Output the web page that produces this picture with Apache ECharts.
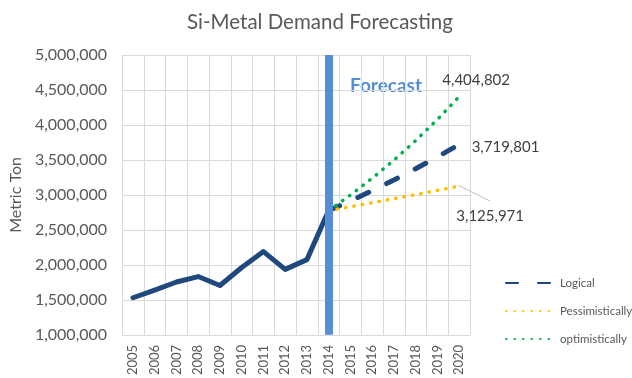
<!DOCTYPE html>
<html>
<head>
<meta charset="utf-8">
<script src="https://cdn.jsdelivr.net/npm/echarts@6/dist/echarts.min.js"></script>
<style>
  html, body { margin: 0; padding: 0; background: #fff; }
  #chart { width: 632px; height: 378px; }
</style>
</head>
<body>
<div id="chart"></div>
<script>
// Years on the category axis
const years = ['2005','2006','2007','2008','2009','2010','2011','2012','2013','2014',
               '2015','2016','2017','2018','2019','2020'];

// Recorded demand, 2005–2014 (metric tons)
const actualYears = ['2005','2006','2007','2008','2009','2010','2011','2012','2013','2014'];
const actual = [1530000, 1640000, 1755000, 1833000, 1705000, 1962000, 2190000, 1936000, 2075000, 2775773];

// Forecast scenarios, 2014–2020 (metric tons)
const forecastYears = ['2014','2015','2016','2017','2018','2019','2020'];
const logical        = [2775773, 2914562, 3060290, 3213304, 3373969, 3542668, 3719801];
const pessimistic    = [2775773, 2831288, 2887914, 2945673, 3004586, 3064678, 3125971];
const optimistic     = [2775773, 2997835, 3237662, 3496675, 3776408, 4078521, 4404802];

const yTicks = { min: 1000000, max: 5000000, step: 500000 };

const fmt = v => Math.round(v).toLocaleString('en-US');
const FONT = 'Lato';
const last = arr => arr[arr.length - 1];

// Pair each value with its year; only the final point carries a label
function pairs(xs, vs, labelOpt) {
  return vs.map((v, i) => {
    const item = { value: [xs[i], v] };
    if (labelOpt && i === vs.length - 1) {
      item.symbol = 'circle';
      item.symbolSize = 1;
      item.itemStyle = { color: 'rgba(0,0,0,0)', borderWidth: 0 };
      item.label = Object.assign({ show: true, formatter: p => fmt(p.value[1]) }, labelOpt);
    }
    return item;
  });
}

const labelText = { color: '#404040', fontSize: 15, fontFamily: FONT };

const chart = echarts.init(document.getElementById('chart'), null, { renderer: 'canvas' });

chart.setOption({
  animation: false,
  backgroundColor: '#ffffff',
  title: {
    text: 'Si-Metal Demand Forecasting',
    left: 182,
    top: 7,
    textStyle: { color: '#595959', fontSize: 20.5, fontWeight: 'normal', fontFamily: FONT }
  },
  grid: { left: 113, right: 162, top: 55, bottom: 41, containLabel: false },
  legend: {
    data: ['Logical', 'Pessimistically', 'optimistically'],
    orient: 'vertical',
    left: 505,
    top: 277,
    padding: 0,
    itemWidth: 49,
    itemHeight: 14,
    itemGap: 16,
    itemStyle: { color: 'rgba(0,0,0,0)', borderWidth: 0 },
    textStyle: { color: '#595959', fontSize: 11.5, fontFamily: FONT }
  },
  xAxis: {
    type: 'category',
    data: years,
    boundaryGap: true,
    axisLine: { lineStyle: { color: '#D9D9D9' } },
    axisTick: { show: false },
    splitLine: { show: true, lineStyle: { color: '#D9D9D9' } },
    axisLabel: { rotate: 90, margin: 10, color: '#595959', fontSize: 13, fontFamily: FONT, interval: 0 }
  },
  yAxis: {
    type: 'value',
    min: yTicks.min,
    max: yTicks.max,
    interval: yTicks.step,
    name: 'Metric Ton',
    nameLocation: 'middle',
    nameGap: 88,
    nameTextStyle: { color: '#595959', fontSize: 16, fontFamily: FONT },
    axisLine: { show: false },
    axisTick: { show: false },
    splitLine: { lineStyle: { color: '#D9D9D9' } },
    axisLabel: { color: '#595959', fontSize: 16, fontFamily: FONT, margin: 15, formatter: v => fmt(v) }
  },
  graphic: [{
    type: 'text',
    left: 350,
    top: 76,
    style: { text: 'Forecast', fill: '#558ED5', font: 'bold 19px ' + FONT }
  }],
  series: [
    {
      name: 'Actual',
      type: 'line',
      symbol: 'none',
      data: pairs(actualYears, actual),
      lineStyle: { color: '#1F497D', width: 5, cap: 'round', join: 'round' },
      z: 3
    },
    {
      name: 'Logical',
      type: 'line',
      symbol: 'none',
      color: '#1F497D',
      data: pairs(forecastYears, logical, Object.assign({ position: 'right', distance: 12 }, labelText)),
      lineStyle: { color: '#1F497D', width: 5, type: [12, 20], cap: 'round' },
      labelLayout: { dx: 0, dy: 3 },
      z: 2
    },
    {
      name: 'Pessimistically',
      type: 'line',
      symbol: 'none',
      color: '#FFC000',
      data: pairs(forecastYears, pessimistic, Object.assign({ position: 'bottom', distance: 5 }, labelText)),
      lineStyle: { color: '#FFC000', width: 3.5, type: [0.5, 8], cap: 'round' },
      labelLayout: { dx: 31, dy: 17 },
      z: 2
    },
    {
      // Leader line from the pessimistic end point to its value label
      name: 'Leader',
      type: 'custom',
      silent: true,
      z: 1,
      data: [[last(forecastYears), last(pessimistic)]],
      renderItem: (params, api) => {
        const p = api.coord([api.value(0), api.value(1)]);
        return {
          type: 'line',
          shape: { x1: p[0] - 1, y1: p[1] - 1, x2: p[0] + 31, y2: p[1] + 15 },
          style: { stroke: '#BFBFBF', lineWidth: 1 }
        };
      }
    },
    {
      name: 'optimistically',
      type: 'line',
      symbol: 'none',
      color: '#00B050',
      data: pairs(forecastYears, optimistic, Object.assign({ position: 'top', distance: 5 }, labelText)),
      lineStyle: { color: '#00B050', width: 3.5, type: [0.5, 8], cap: 'round' },
      labelLayout: { dx: 17, dy: -3 },
      z: 2
    },
    {
      // Boundary between recorded and forecast years
      name: 'Boundary',
      type: 'line',
      data: [],
      z: 6,
      markLine: {
        silent: true,
        symbol: 'none',
        label: { show: false },
        lineStyle: { color: '#558ED5', width: 8, type: 'solid' },
        data: [{ xAxis: '2014' }]
      }
    }
  ]
});
</script>
</body>
</html>
